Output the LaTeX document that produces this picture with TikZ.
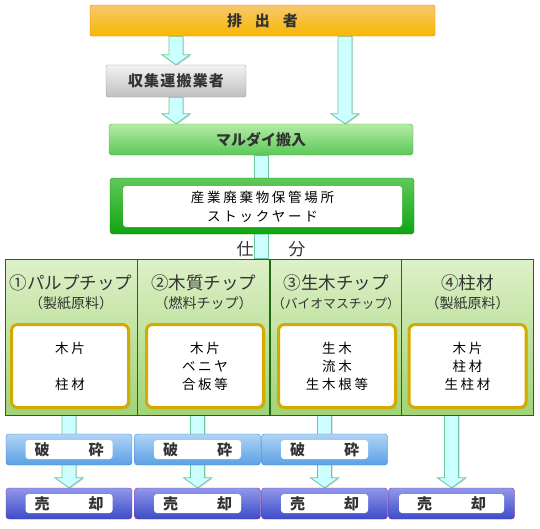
\documentclass[tikz,border=0pt]{standalone}
\usepackage{fontspec}
\setmainfont{Noto Sans CJK JP}
\newfontfamily\titlefont[LetterSpace=8]{Noto Sans CJK JP}
\newfontfamily\itemfont[LetterSpace=20]{Noto Sans CJK JP}
\usepackage{tikz}
\usetikzlibrary{calc,shadows}
\pgfdeclarelayer{bg}
\pgfsetlayers{bg,main}
\definecolor{txt}{HTML}{333333}
\definecolor{arrowfill}{HTML}{CCFFFF}
\definecolor{arrowline}{HTML}{6CC79A}
\tikzstyle{emitter} = [rectangle, rounded corners=2pt, draw=orange!90!red, top color={rgb,255:red,246;green,200;blue,110}, bottom color={rgb,255:red,248;green,184;blue,0}, minimum width=345pt, minimum height=31pt, inner sep=0pt, text=txt, font=\bfseries\fontsize{15}{18}\selectfont]
\tikzstyle{carrier} = [rectangle, rounded corners=2pt, draw=black!40, top color=black!5, bottom color=black!25, minimum width=140pt, minimum height=32pt, inner sep=0pt, text=txt, font=\titlefont\bfseries\fontsize{15}{18}\selectfont]
\tikzstyle{intake} = [rectangle, rounded corners=3pt, draw={rgb,255:red,74;green,174;blue,58}, top color={rgb,255:red,180;green,236;blue,165}, bottom color={rgb,255:red,90;green,200;blue,88}, minimum width=304pt, minimum height=31pt, inner sep=0pt, text=txt, font=\bfseries\fontsize{15}{18}\selectfont]
\tikzstyle{yard} = [rectangle, rounded corners=3pt, draw={rgb,255:red,16;green,144;blue,16}, top color={rgb,255:red,96;green,200;blue,90}, bottom color={rgb,255:red,16;green,165;blue,16}, minimum width=304pt, minimum height=56pt, inner sep=0pt]
\tikzstyle{yardinner} = [rectangle, rounded corners=3pt, fill=white, minimum width=279pt, minimum height=41pt, inner sep=0pt, align=center, font=\itemfont\fontsize{13.5}{19}\selectfont]
\tikzstyle{column} = [rectangle, draw={rgb,255:red,31;green,107;blue,20}, top color={rgb,255:red,222;green,240;blue,200}, bottom color={rgb,255:red,160;green,212;blue,118}, minimum width=132pt, minimum height=156pt, inner sep=0pt]
\tikzstyle{heading} = [align=center, text=txt, font=\fontsize{17.5}{19}\selectfont]
\tikzstyle{items} = [rectangle, rounded corners=6pt, line width=3pt, draw={rgb,255:red,212;green,170;blue,0}, fill=white, minimum width=117pt, minimum height=83pt, inner sep=0pt, align=center, font=\itemfont\fontsize{13.5}{18}\selectfont, drop shadow={shadow xshift=1.5pt, shadow yshift=-1.5pt, opacity=0.3}]
\tikzstyle{plate} = [path picture={\fill[white] ([shift={(-#1/2,-9.5pt)}]path picture bounding box.center) rectangle +(#1,19pt);}]
\tikzstyle{crush} = [rectangle, rounded corners=3pt, draw={rgb,255:red,53;green,132;blue,208}, top color={rgb,255:red,176;green,212;blue,245}, bottom color={rgb,255:red,90;green,160;blue,230}, minimum width=126pt, minimum height=31pt, inner sep=0pt, plate=87pt, text=txt, font=\bfseries\fontsize{15}{18}\selectfont]
\tikzstyle{sale} = [rectangle, rounded corners=3pt, draw={rgb,255:red,136;green,51;blue,170}, top color={rgb,255:red,144;green,152;blue,232}, bottom color={rgb,255:red,60;green,76;blue,200}, minimum width=126pt, minimum height=31pt, inner sep=0pt, plate=87pt, text=txt, font=\bfseries\fontsize{15}{18}\selectfont]
\tikzstyle{flowarrow} = [fill=arrowfill, draw=arrowline, line width=0.8pt, drop shadow={shadow xshift=1pt, shadow yshift=-1pt, opacity=0.3}]
% block arrow: y from #1, x and tip from #2
\newcommand{\bigarrow}[2]{%
  \path[flowarrow] let \p1=(#1), \p2=(#2) in
    (\x2-7pt,\y1) -- (\x2+7pt,\y1) -- (\x2+7pt,\y2+10pt) -- (\x2+14pt,\y2+10pt)
    -- (\x2,\y2) -- (\x2-14pt,\y2+10pt) -- (\x2-7pt,\y2+10pt) -- cycle;}
\newcommand{\bigshaft}[2]{%
  \path[flowarrow] let \p1=(#1), \p2=(#2) in (\x2-7pt,\y1) rectangle (\x2+7pt,\y2);}

\begin{document}
\begin{tikzpicture}[x=1pt,y=-1pt]
    \useasboundingbox (0,0) rectangle (540,528);
    \node (emitter) [emitter] at (262.5,20.5) {排\hspace{13pt}出\hspace{13pt}者};
    \node (carrier) [carrier] at (176,81) {収集運搬業者};
    \coordinate (direct) at (345,0);
    \node (intake) [intake] at (261,139.5) {マルダイ搬入};
    \node (yard) [yard] at (262,206) {};
    \node (yardtext) [yardinner] at (262.5,206.5) {産業廃棄物保管場所\\ストックヤード};
    \node (sorting) [text=txt, font=\fontsize{17}{19}\selectfont] at (271,249) {仕\hspace{35pt}分};
    % columns
    \node (col1) [column] at (71,337) {};
    \node (col2) [column] at (203.5,337) {};
    \node (col3) [column] at (336,337) {};
    \node (col4) [column] at (467.5,337) {};
    \node (head1) [heading] at (71,292) {①パルプチップ\\{\fontsize{14}{19}\selectfont （製紙原料）}};
    \node (head2) [heading] at (203.5,292) {②木質チップ\\{\fontsize{14}{19}\selectfont （燃料チップ）}};
    \node (head3) [heading] at (336,292) {③生木チップ\\{\fontsize{12.8}{19}\selectfont （バイオマスチップ）}};
    \node (head4) [heading] at (467.5,292) {④柱材\\{\fontsize{14}{19}\selectfont （製紙原料）}};
    \node (items1) [items] at (70,366) {木片\\[18pt]柱材};
    \node (items2) [items] at (205,366) {木片\\ベニヤ\\合板等};
    \node (items3) [items] at (337,366) {生木\\流木\\生木根等};
    \node (items4) [items] at (467.5,366) {木片\\柱材\\生柱材};
    % crushing and sale
    \node (crush1) [crush] at (69,449.5) {破\hspace{39pt}砕};
    \node (crush2) [crush] at (197.5,449.5) {破\hspace{39pt}砕};
    \node (crush3) [crush] at (324.5,449.5) {破\hspace{39pt}砕};
    \node (sale1) [sale] at (69,503.5) {売\hspace{39pt}却};
    \node (sale2) [sale] at (197.5,503.5) {売\hspace{39pt}却};
    \node (sale3) [sale] at (324.5,503.5) {売\hspace{39pt}却};
    \node (sale4) [sale, plate=105pt] at (451.5,503.5) {売\hspace{39pt}却};
    \begin{pgfonlayer}{bg}
        \bigarrow{emitter.south}{carrier.north}
        \bigarrow{emitter.south}{intake.north -| direct}
        \bigarrow{carrier.south}{intake.north -| carrier.south}
        \bigshaft{intake.south}{col2.north -| intake.south}
        \bigarrow{col1.south}{sale1.north}
        \bigarrow{col2.south}{sale2.north}
        \bigarrow{col3.south}{sale3.north}
        \bigarrow{col4.south}{sale4.north}
    \end{pgfonlayer}
\end{tikzpicture}
\end{document}
